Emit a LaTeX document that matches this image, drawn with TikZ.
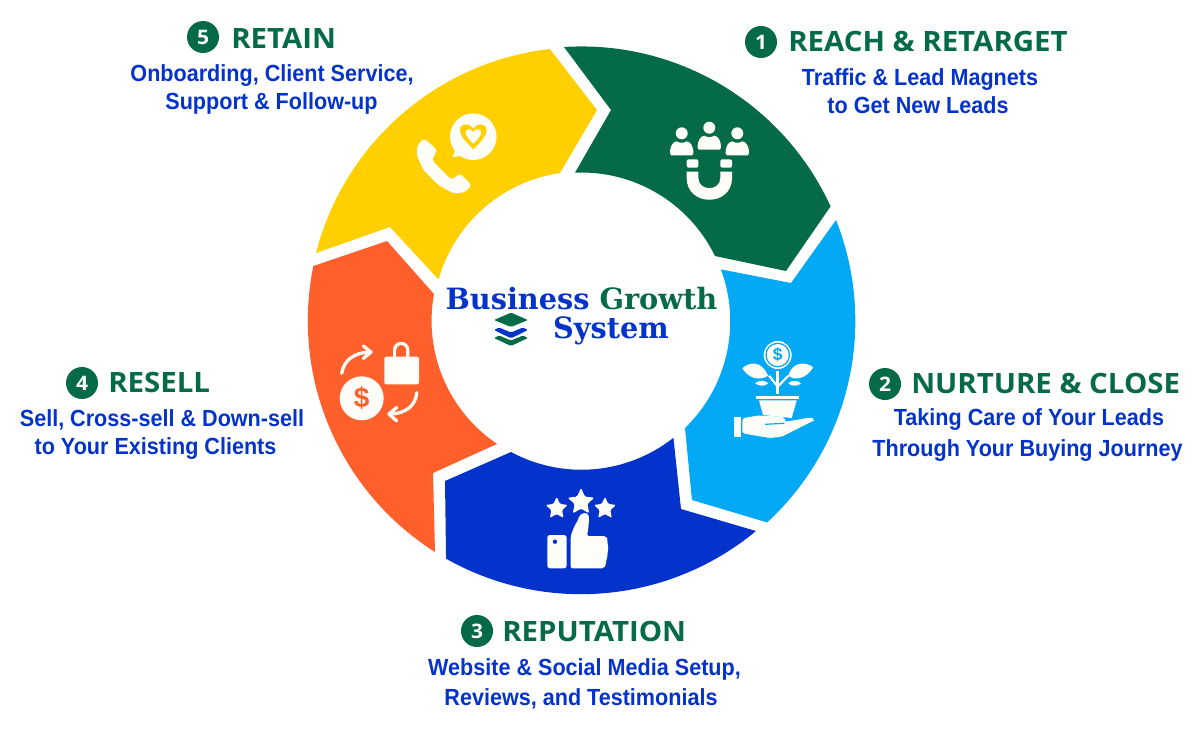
\documentclass[tikz,border=0pt]{standalone}
\usepackage{fontspec}
\usetikzlibrary{shapes.geometric}
\setmainfont{Liberation Sans}
\newfontfamily\headfont{Open Sans}[FakeStretch=1.05]
\newfontfamily\subfont{Liberation Sans}[FakeStretch=0.925]
\newfontfamily\titlefont{DejaVu Serif}[FakeStretch=0.98]

\definecolor{reachgreen}{HTML}{046A47}
\definecolor{nurtureblue}{HTML}{03A9F4}
\definecolor{repblue}{HTML}{0433CC}
\definecolor{resellorange}{HTML}{FF5F2A}
\definecolor{retainyellow}{HTML}{FFCF00}
\definecolor{iconwhite}{HTML}{FFFDF8}

\tikzset{
  badge/.style={circle,fill=reachgreen,text=white,inner sep=0pt,minimum size=24pt,font=\headfont\bfseries\fontsize{15}{15}\selectfont},
  headtxt/.style={anchor=base west,inner sep=0.75pt,text=reachgreen,font=\headfont\bfseries\fontsize{21}{21}\selectfont},
  subtxt/.style={anchor=base,inner sep=0.75pt,text=repblue,font=\subfont\bfseries\fontsize{17.5}{17}\selectfont},
  titletxt/.style={anchor=base,inner sep=0.75pt,text=repblue,font=\titlefont\bfseries\fontsize{22}{22}\selectfont},
  ico/.style={fill=iconwhite},
  icoline/.style={draw=iconwhite,line cap=round,line join=round},
  starmark/.style={star,star points=5,star point ratio=2.1,fill=iconwhite,inner sep=0pt,rounded corners=1pt},
}

\newcommand\personmark[2]{%
  \begin{scope}[shift={(#1,#2)}]
    \fill[ico] (0,0) circle (6);
    \fill[ico] (-11.7,20) .. controls (-11.7,12) and (-8.5,8.5) .. (-5,8) .. controls (-2,10) and (2,10) .. (5,8) .. controls (8.5,8.5) and (11.7,12) .. (11.7,20) -- (10.5,22) -- (-10.5,22) -- cycle;
  \end{scope}}
\newcommand\heartmark[1]{(0,#1*12.5) .. controls (#1*-7,#1*5) and (#1*-12.5,#1*0) .. (#1*-12.5,#1*-5.5) .. controls (#1*-12.5,#1*-12) and (#1*-3.5,#1*-13) .. (0,#1*-6.5) .. controls (#1*3.5,#1*-13) and (#1*12.5,#1*-12) .. (#1*12.5,#1*-5.5) .. controls (#1*12.5,#1*0) and (#1*7,#1*5) .. (0,#1*12.5) -- cycle}

\begin{document}
\begin{tikzpicture}[x=0.75pt,y=0.75pt,yscale=-1,xscale=1]
\useasboundingbox (0,0) rectangle (1200,729);

% Segment reach
\fill[reachgreen] (564,47) arc[start angle=-93.65,end angle=-24.6,radius=274] -- (786,271) -- (715,256) arc[start angle=-25.96,end angle=-92.5,radius=148.5] -- (611,110) -- cycle;
% Segment nurture
\fill[nurtureblue] (836,220) arc[start angle=-21.65,end angle=47.3,radius=274] -- (692,500) -- (685,428) arc[start angle=45.95,end angle=-20.45,radius=148.5] -- (791,283) -- cycle;
% Segment reputation
\fill[repblue] (756,531) arc[start angle=50.3,end angle=119.5,radius=274] -- (445,481) -- (511,452) arc[start angle=118.3,end angle=51.7,radius=148.5] -- (681,509) -- cycle;
% Segment resell
\fill[resellorange] (435,552) arc[start angle=122.4,end angle=191.5,radius=274] -- (387,241) -- (434,294) arc[start angle=190.4,end angle=124,radius=148.5] -- (433,473) -- cycle;
% Segment retain
\fill[retainyellow] (316,253) arc[start angle=194.4,end angle=263.4,radius=274] -- (597,110) -- (560,173) arc[start angle=261.7,end angle=195.8,radius=148.5] -- (390,227) -- cycle;

% Icon reach: people and magnet
\personmark{681.7}{133.3}
\personmark{737.3}{133.3}
\personmark{709.3}{127.7}
\fill[ico,rounded corners=1.5] (686.7,159.3) rectangle (698.4,167.7);
\fill[ico,rounded corners=1.5] (720.3,159.3) rectangle (732,167.7);
\fill[ico] (686.7,171.5) -- (698.4,171.5) -- (698.4,178) .. controls (698.4,191.5) and (720.3,191.5) .. (720.3,178) -- (720.3,171.5) -- (732,171.5) -- (732,178) .. controls (732,207) and (686.7,207) .. (686.7,178) -- cycle;

% Icon nurture: plant on hand
\fill[ico] (777.7,355) circle (14);
\fill[nurtureblue] (777.7,355) circle (12.4);
\fill[ico] (777.7,355) circle (11);
\node[inner sep=0pt,text=nurtureblue,font=\bfseries\fontsize{13}{13}\selectfont] (plantcoin) at (777.7,355) {\$};
\fill[ico] (742.3,368.3) .. controls (750,361) and (762,361) .. (768,375.7) .. controls (760,381) and (749,379) .. (742.3,368.3) -- cycle;
\fill[ico] (813.3,367.3) .. controls (806,379) and (795,381) .. (788.3,375.7) .. controls (792,362) and (805,361) .. (813.3,367.3) -- cycle;
\fill[ico] (755,383.3) .. controls (759,380) and (765,380) .. (768.3,383.3) .. controls (765,386.5) and (759,386.5) .. (755,383.3) -- cycle;
\fill[ico] (788.3,383.3) .. controls (791,380) and (798,380) .. (801,383.3) .. controls (798,386.5) and (791,386.5) .. (788.3,383.3) -- cycle;
\draw[icoline,line width=2.2pt,line cap=butt] (777.7,370.7) -- (777.7,394);
\draw[icoline,line width=1.6pt,line cap=butt] (777.7,386.7) -- (769,375.7);
\draw[icoline,line width=1.6pt,line cap=butt] (777.7,386.7) -- (788.3,375.7);
\fill[ico] (756,395.7) rectangle (799.3,399);
\fill[ico] (759,400.3) -- (796.7,400.3) -- (791.7,418) -- (763,415) -- cycle;
\fill[ico] (734.3,417.3) rectangle (741,436.7);
\fill[ico,rounded corners=2] (742.3,418.3) -- (758,415.5) -- (780,416.5) .. controls (783,417) and (785,420) .. (784.3,422) -- (810,417.5) .. controls (813,418) and (813,421) .. (811.7,421.5) -- (781.7,436.7) -- (770,438) -- (742.3,433.3) -- cycle;
\draw[draw=nurtureblue,line width=0.9pt] (765,424.3) -- (784.3,423.3);

% Icon reputation: stars and thumb
\node[starmark,minimum size=21pt] (starmid) at (581,502) {};
\node[starmark,minimum size=17.5pt] (starleft) at (556.7,508.5) {};
\node[starmark,minimum size=17.5pt] (starright) at (605,508.5) {};
\fill[ico,rounded corners=2] (547.3,535) rectangle (566.7,568.3);
\fill[repblue] (555,541.7) circle (2.2);
\fill[ico,rounded corners=1.5] (570.7,568.3) -- (570.7,536) -- (574,527) -- (578.5,519) .. controls (580,513) and (588,511) .. (589,518) -- (588.5,527) -- (587,536) -- (606,536) -- (608,540) -- (607,544) -- (609,548) -- (607,552) -- (608,556) -- (606,560) -- (606,565) -- (604,568.3) -- cycle;

% Icon resell: coin, bag and arrows
\fill[ico] (361.7,398.3) circle (22);
\node[inner sep=0pt,text=resellorange,font=\bfseries\fontsize{21}{21}\selectfont] (resellcoin) at (361.7,398.3) {\$};
\fill[ico,rounded corners=1.5] (384.3,356.7) rectangle (419,384.3);
\draw[icoline,line width=2.4pt,line cap=butt] (394.6,350) arc[start angle=180,end angle=360,radius=6.6] -- (407.8,359);
\draw[icoline,line width=2.4pt,line cap=butt] (394.6,350) -- (394.6,359);
\draw[icoline,line width=2.5pt] (341.7,373.3) .. controls (344,360) and (354,353) .. (369,352);
\draw[icoline,line width=2.5pt] (363.3,346) -- (371,352) -- (363.3,358.5);
\draw[icoline,line width=2.5pt] (416.7,392.7) .. controls (416,405) and (406,413.5) .. (391,414);
\draw[icoline,line width=2.5pt] (396.7,407.5) -- (389,414) -- (396.7,421);

% Icon retain: phone and speech bubble
\fill[ico,rounded corners=2.5] (424,138.3) -- (437.3,150) -- (431.7,160) -- (451.7,180) -- (460,173.3) -- (471.7,185) -- (465,192.3) -- (453.3,193.3) -- (438.3,185) -- (423.3,170) -- (416.7,155) -- (417.3,145) -- cycle;
\fill[ico] (473.3,136.7) circle (23.3);
\fill[ico] (458,142) -- (452.7,157.3) -- (468,154) -- cycle;
\begin{scope}[shift={(473.3,136)}]
  \fill[retainyellow] \heartmark{1.07};
  \fill[ico] \heartmark{0.62};
\end{scope}

% Title
\node[titletxt] (titletop) at (581.5,309) {Business \textcolor{reachgreen}{Growth}};
\node[titletxt] (titlebot) at (611,338) {System};
\fill[reachgreen,rounded corners=1] (494,320) -- (511,312.7) -- (528,320) -- (511,327) -- cycle;
\fill[repblue,rounded corners=1] (494,330) -- (499,327.5) -- (511,332.5) -- (523,327.5) -- (528,330) -- (511,338.3) -- cycle;
\fill[reachgreen,rounded corners=1] (494,338) -- (499,335.5) -- (511,340.5) -- (523,335.5) -- (528,338) -- (511,346) -- cycle;

% Text Node
\node[badge] (numone) at (761,42) {1};
\node[headtxt] (headone) at (787,51) {REACH \& RETARGET};
\node[subtxt] (subonea) at (920,85) {Traffic \& Lead Magnets};
\node[subtxt] (suboneb) at (918,113) {to Get New Leads};
% Text Node
\node[badge] (numtwo) at (885,384) {2};
\node[headtxt] (headtwo) at (910,393) {NURTURE \& CLOSE};
\node[subtxt] (subtwoa) at (1029,425) {Taking Care of Your Leads};
\node[subtxt] (subtwob) at (1027.5,456) {Through Your Buying Journey};
% Text Node
\node[badge] (numthree) at (477,631) {3};
\node[headtxt] (headthree) at (501,641) {REPUTATION};
\node[subtxt] (subthreea) at (584.5,675) {Website \& Social Media Setup,};
\node[subtxt] (subthreeb) at (581,705) {Reviews, and Testimonials};
% Text Node
\node[badge] (numfour) at (82,383) {4};
\node[headtxt] (headfour) at (107,392) {RESELL};
\node[subtxt] (subfoura) at (162,426) {Sell, Cross-sell \& Down-sell};
\node[subtxt] (subfourb) at (155.5,454) {to Your Existing Clients};
% Text Node
\node[badge] (numfive) at (203,37) {5};
\node[headtxt] (headfive) at (230,48) {RETAIN};
\node[subtxt] (subfivea) at (272,81) {Onboarding, Client Service,};
\node[subtxt] (subfiveb) at (271.5,109) {Support \& Follow-up};

\end{tikzpicture}
\end{document}
